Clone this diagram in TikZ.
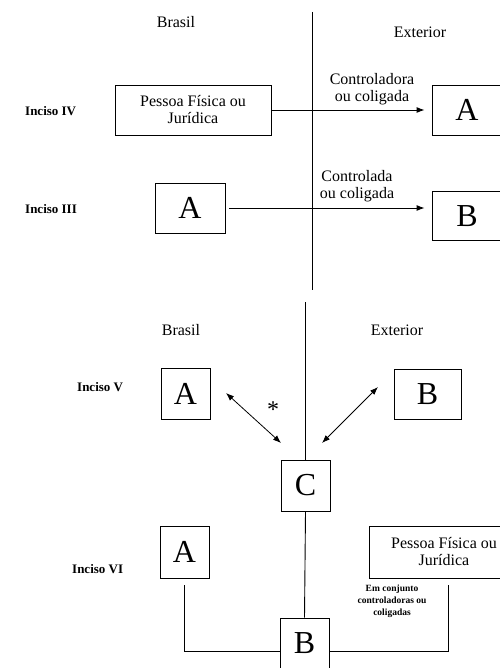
\documentclass[tikz,border=0pt]{standalone}
\usepackage{fontspec}
\setmainfont{Liberation Serif}
\usetikzlibrary{positioning, arrows.meta, calc}

\begin{document}
\begin{tikzpicture}[
    x=1pt, y=-1pt,
    % ── node styles ─────────────────────────────────────────
    entity/.style = { draw, line width=0.9pt, minimum height=50pt, inner sep=0pt,
            align=center, font=\fontsize{16}{17}\selectfont, },
    letter/.style = { entity, minimum width=49pt, font=\fontsize{32}{32}\selectfont, },
    region/.style = {font=\fontsize{16}{18}\selectfont}, inciso/.style =
    {anchor=west, inner sep=0pt, font=\bfseries\fontsize{13}{15}\selectfont},
    rel/.style = {align=center, font=\fontsize{16}{17}\selectfont}, small/.style =
    {align=center, font=\bfseries\fontsize{9.5}{12}\selectfont}, frontier/.style =
    {line width=0.9pt}, flow/.style = {-{Latex[length=8pt,width=6pt]}, line
    width=0.9pt}, twoway/.style =
    {{Latex[length=8pt,width=6pt]}-{Latex[length=8pt,width=6pt]}, line width=0.8pt},
    joint/.style = {line width=0.9pt}, ]

    \useasboundingbox (0,0) rectangle (499,668);

    % ============================================================
    % UPPER PART — Inciso IV | Inciso III
    % ============================================================
    \coordinate (top-frontier-a) at (312,12);
    \coordinate (top-frontier-b) at (312,290);
    \draw[frontier] (top-frontier-a) -- (top-frontier-b);

    \node[region] (brasil-top) at (176,22) {Brasil};
    \node[region] (exterior-top) at (420,32) {Exterior};

    \node[inciso] (inciso-iv) at (25,111) {Inciso IV};
    \node[entity, minimum width=156pt]
    (pf-iv) at (193,110)
    {Pessoa Física ou\\Jurídica};
    \node[letter, minimum width=70pt]
    (a-iv) at (467,110) {A};

    \draw[flow, shorten >=7pt] (pf-iv.east) -- (a-iv.west);
    \node[rel] (rel-iv) at (372,89) {Controladora\\ou coligada};

    \node[inciso] (inciso-iii) at (25,209) {Inciso III};
    \node[letter, minimum width=70pt]
    (a-iii) at (190,208) {A};
    \node[letter, minimum width=70pt, minimum height=49pt]
    (b-iii) at (467,216) {B};

    \draw[flow, shorten <=4pt, shorten >=7pt] (a-iii.east) -- (a-iii.east -| b-iii.west);
    \node[rel] (rel-iii) at (357,186) {Controlada\\ou coligada};

    % ============================================================
    % LOWER PART — Inciso V | Inciso VI
    % ============================================================
    \node[region] (brasil-bottom) at (181,330) {Brasil};
    \node[region] (exterior-bottom) at (397,330) {Exterior};

    \node[inciso] (inciso-v) at (77,387) {Inciso V};
    \node[letter, minimum height=51pt] (a-v) at (185.5,394) {A};
    \node[letter, minimum width=67pt] (b-v) at (427.5,394) {B};
    \node[letter, minimum height=51pt] (c-v) at (305.5,485.5) {C};

    \coordinate (bottom-frontier) at (305.5,302);
    \draw[frontier] (bottom-frontier) -- (c-v.north);

    \coordinate (a-v-tip) at (226,393);
    \coordinate (c-v-tip-left) at (281,443);
    \coordinate (c-v-tip-right) at (322,443);
    \coordinate (b-v-tip) at (378,387);
    \draw[twoway] (a-v-tip) -- (c-v-tip-left);
    \draw[twoway] (c-v-tip-right) -- (b-v-tip);
    \node[font=\fontsize{24}{24}\selectfont] (star) at (273,410) {*};

    \node[inciso] (inciso-vi) at (72,569) {Inciso VI};
    \node[letter, minimum height=52pt] (a-vi) at (184.5,552) {A};
    \node[entity, minimum width=150pt, minimum height=52pt]
    (pf-vi) at (444,552)
    {Pessoa Física ou\\Jurídica};
    \node[letter] (b-vi) at (304.5,643) {B};

    \draw[joint] (c-v.south) -- (b-vi.north);
    \draw[joint] ([yshift=-7pt]a-vi.south) |- ([yshift=-8pt]b-vi.west);
    \draw[joint] ([yshift=-8pt]b-vi.east) -| ([xshift=4pt,yshift=-7pt]pf-vi.south);

    \node[small] (note-vi) at (392,601)
    {Em conjunto\\controladoras ou\\coligadas};

\end{tikzpicture}
\end{document}
